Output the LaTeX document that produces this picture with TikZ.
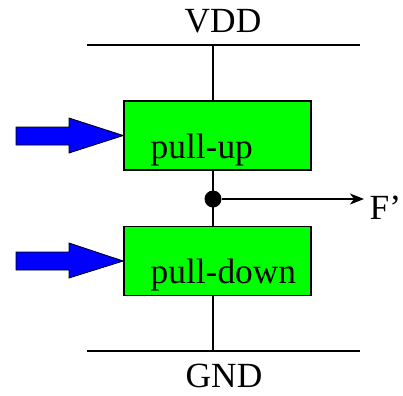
\documentclass[tikz,border=0pt]{standalone}
\usepackage{fontspec}
\setmainfont{Liberation Serif}
\usepackage{tikz}
\usetikzlibrary{arrows.meta,positioning}

\begin{document}
\begin{tikzpicture}[x=1bp, y=-1bp, line width=1.4bp]
\useasboundingbox (0,0) rectangle (403,396);
\tikzstyle{blk} = [draw=black, fill=green, rectangle, inner sep=0pt, minimum width=187bp, minimum height=69bp]
\tikzstyle{lbl} = [inner sep=0pt, font=\fontsize{35.5}{38}\selectfont]
\tikzstyle{bigarrow} = [draw=black, line width=0.8bp, fill=blue]
% rails
\coordinate (vddl) at (87,45);
\coordinate (vddr) at (360,45);
\coordinate (gndl) at (87,351);
\coordinate (gndr) at (360,351);
\coordinate (vddtap) at (213,45);
\coordinate (gndtap) at (213,351);
\node[lbl, anchor=base] (vdd) at (223,32) {VDD};
\node[lbl, anchor=base] (gnd) at (224,387) {GND};
% blocks
\node[blk] (pu) at (217.5,135.5) {};
\node[blk] (pd) at (217.5,261) {};
\node[lbl, anchor=base west] (putxt) at (150,158) {pull-up};
\node[lbl, anchor=base west] (pdtxt) at (150,283) {pull-down};
% output
\node[circle, fill=black, inner sep=0pt, minimum size=17bp] (out) at (213,199) {};
\coordinate (fend) at (364,199);
\node[lbl, anchor=base west] (f) at (369,219) {F'};
\draw (vddl) -- (vddr);
\draw (gndl) -- (gndr);
\draw (vddtap) -- (vddtap |- pu.north);
\draw (out |- pu.south) -- (out |- pd.north);
\draw (out |- pd.south) -- (gndtap);
\draw[-{Stealth[length=14bp, width=11bp, inset=4bp]}] (out) -- (fend);
% inputs
\draw[bigarrow] (16,127) -- (69,127) -- (69,118) -- (pu.west) -- (69,153) -- (69,145) -- (16,145) -- cycle;
\draw[bigarrow] (16,252) -- (69,252) -- (69,243) -- (pd.west) -- (69,278) -- (69,270) -- (16,270) -- cycle;
\end{tikzpicture}
\end{document}
